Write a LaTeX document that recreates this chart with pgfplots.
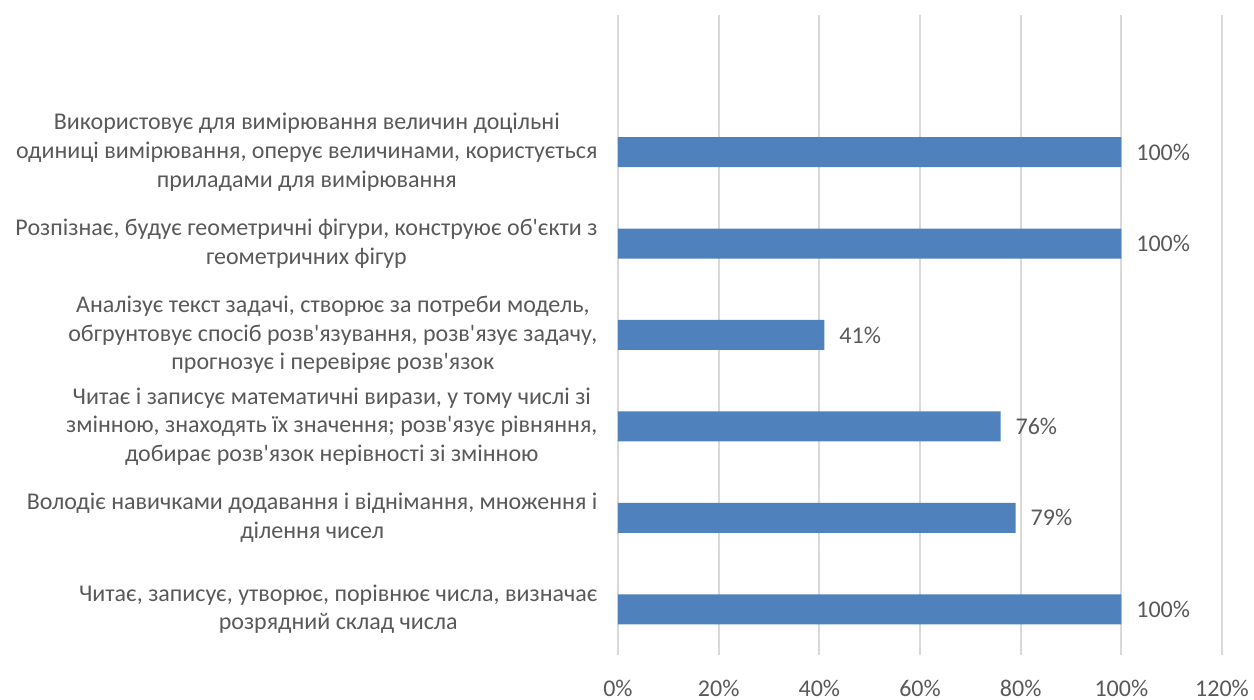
\documentclass[border=0pt]{standalone}
\usepackage{fontspec}
\setmainfont{Carlito}[Ligatures=TeXOff]
\usepackage{pgfplots}
\pgfplotsset{compat=1.18}
\definecolor{barblue}{HTML}{4F81BD}
\definecolor{txt}{HTML}{595959}
\definecolor{gridc}{HTML}{D9D9D9}

\begin{document}
\begin{tikzpicture}
\begin{axis}[
  xbar,
  scale only axis,
  width=302pt, height=320pt,
  xmin=0, xmax=120,
  ymin=-0.5, ymax=6.5,
  bar width=15pt,
  axis line style={draw=none},
  tick style={draw=none},
  /pgf/number format/assume math mode=true,
  xmajorgrids,
  grid style={gridc, line width=0.9pt},
  xtick={0,20,...,120},
  xticklabel={\pgfmathprintnumber{\tick}\%},
  xticklabel style={font=\fontsize{12}{14}\selectfont, color=txt, yshift=-9pt},
  ytick={0,...,5},
  yticklabels={
    {Читає, записує, утворює, порівнює числа, визначає\\розрядний склад числа},
    {Володіє навичками додавання і віднімання, множення і\\ділення чисел},
    {Читає і записує математичні вирази, у тому числі зі\\змінною, знаходять їх значення; розв'язує рівняння,\\добирає розв'язок нерівності зі змінною},
    {Аналізує текст задачі, створює за потреби модель,\\обгрунтовує спосіб розв'язування, розв'язує задачу,\\прогнозує і перевіряє розв'язок},
    {Розпізнає, будує геометричні фігури, конструює об'єкти з\\геометричних фігур},
    {Використовує для вимірювання величин доцільні\\одиниці вимірювання, оперує величинами, користується\\приладами для вимірювання}
  },
  yticklabel style={font=\fontsize{12}{14.3}\selectfont, color=txt, align=center, xshift=-2.5pt},
  point meta=x,
  nodes near coords={\pgfmathprintnumber{\pgfplotspointmeta}\%},
  nodes near coords style={font=\fontsize{12}{14}\selectfont, color=txt, anchor=west, xshift=4pt},
]
\addplot[fill=barblue, draw=none] coordinates {
  (100,0) (79,1) (76,2) (41,3) (100,4) (100,5)
};
\end{axis}
\pgfresetboundingbox
\path ([xshift=-309pt,yshift=-22.5pt]current axis.south west) rectangle ([xshift=16pt,yshift=7.5pt]current axis.north east);
\end{tikzpicture}
\end{document}
